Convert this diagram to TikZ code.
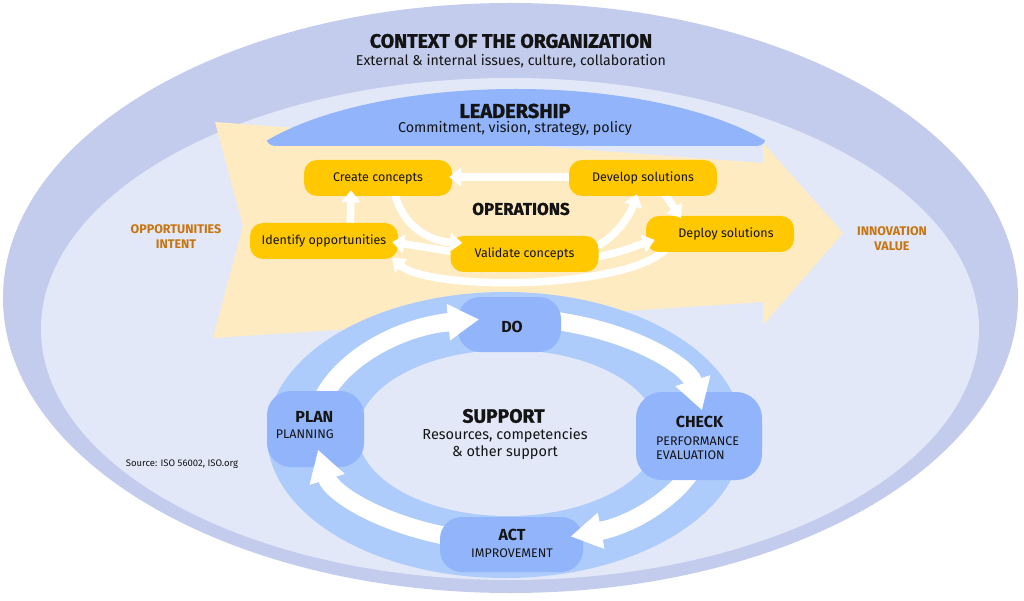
\documentclass[tikz,border=0pt]{standalone}
\usepackage{fontspec}
\setmainfont{Fira Sans}
\newfontfamily\heavyfont{Fira Sans}[BoldFeatures={FakeBold=1.3}]
\usetikzlibrary{arrows.meta}
\pgfdeclarelayer{back}
\pgfdeclarelayer{mid}
\pgfdeclarelayer{front}
\pgfsetlayers{back,mid,main,front}
\definecolor{outerC}{HTML}{C3CCEC}
\definecolor{innerC}{HTML}{E2E8F7}
\definecolor{yelA}{HTML}{FFEBC2}
\definecolor{yelB}{HTML}{FFC800}
\definecolor{blueD}{HTML}{91B4FB}
\definecolor{blueL}{HTML}{ADCBFB}
\definecolor{orangeT}{HTML}{C8740F}
\definecolor{txt}{HTML}{141414}
\newcommand\myfs[1]{\fontsize{#1}{#1}\selectfont}
\begin{document}
\begin{tikzpicture}[x=1pt,y=-1pt,
  opbox/.style={fill=yelB, rounded corners=13pt, minimum width=148pt, minimum height=36pt, inner sep=0pt, text=txt, font=\myfs{12.5}},
  pbox/.style={fill=blueD, inner sep=0pt},
  lbl/.style={inner sep=0pt, text=txt},
  heavy/.style={inner sep=0pt, text=txt, font=\heavyfont\bfseries\myfs{#1}},
  oparrow/.style={draw=white, line width=7.5pt, -{Triangle[length=12pt,width=18pt]}},
  ringarrow/.style={draw=white, line width=18pt, -{Triangle[length=31pt,width=34pt]}}]
\useasboundingbox (0,0) rectangle (1024,601);
\begin{pgfonlayer}{back}
\fill[white] (0,0) rectangle (1024,601);
\fill[outerC] (510.5,298) ellipse (507.5pt and 295pt);
\fill[innerC] (510,329) ellipse (469pt and 251pt);
\fill[yelA] (215,122) -- (763,163) -- (763,143) -- (843,233) -- (763,325) -- (763,302) -- (213,338) -- (243,226) -- cycle;
\begin{scope}
  \clip[rounded corners=9pt] (266,0) rectangle (766,146);
  \fill[blueD] (516,200) ellipse (295pt and 111pt);
\end{scope}
\fill[blueL] (505,435) ellipse (238pt and 143pt);
\fill[innerC] (508,433) ellipse (150pt and 83pt);
\end{pgfonlayer}

% titles
\node[heavy=19.5] (ctxT) at (511,41) {CONTEXT OF THE ORGANIZATION};
\node[lbl, font=\myfs{14.2}] (ctxS) at (511,61) {External \& internal issues, culture, collaboration};
\node[heavy=20] (leadT) at (515,111) {LEADERSHIP};
\node[lbl, font=\myfs{14.3}] (leadS) at (515,128) {Commitment, vision, strategy, policy};
\node[heavy=17] (opsT) at (521,209) {OPERATIONS};
\node[inner sep=0pt, text=orangeT, align=center, font=\fontsize{12.5}{15}\selectfont\bfseries] (oppT) at (176,236.5) {OPPORTUNITIES\\INTENT};
\node[inner sep=0pt, text=orangeT, align=center, font=\fontsize{12.5}{15}\selectfont\bfseries] (innT) at (892,238.5) {INNOVATION\\VALUE};
\node[heavy=19.3] (supT) at (503.5,416) {SUPPORT};
\node[lbl, align=center, font=\fontsize{14.5}{17}\selectfont] (supS) at (505,443.5) {Resources, competencies\\\& other support};
\node[lbl, font=\myfs{9.5}] (src) at (182,464) {Source: ISO 56002, ISO.org};

% operations boxes
\node[opbox] (cc) at (378,178) {Create concepts};
\node[opbox] (ds) at (643,178) {Develop solutions};
\node[opbox] (idop) at (324,241) {Identify opportunities};
\node[opbox] (vc) at (524.5,254) {Validate concepts};
\node[opbox] (dep) at (720,234) {\hspace*{12pt}Deploy solutions};

% PDCA boxes
\node[pbox, rounded corners=22pt, minimum width=103pt, minimum height=55pt] (do) at (509.5,324.5) {};
\node[pbox, rounded corners=24pt, minimum width=97pt, minimum height=76pt] (plan) at (315.5,429) {};
\node[pbox, rounded corners=26pt, minimum width=126pt, minimum height=88pt] (check) at (699,436) {};
\node[pbox, rounded corners=22pt, minimum width=143pt, minimum height=55pt] (act) at (511.5,544.5) {};

\node[lbl, font=\myfs{16}\bfseries] (doT) at (512,327) {DO};
\node[lbl, font=\myfs{16}\bfseries, anchor=east] (planT) at (333.5,417) {PLAN};
\node[lbl, font=\myfs{12.5}, anchor=east] (planS) at (334,434) {PLANNING};
\node[lbl, font=\myfs{16}\bfseries] (checkT) at (699.5,422) {CHECK};
\node[lbl, font=\myfs{12.5}, anchor=west] (checkS) at (656,441) {PERFORMANCE};
\node[lbl, font=\myfs{12.5}, anchor=west] (checkU) at (656,455) {EVALUATION};
\node[lbl, font=\myfs{16}\bfseries] (actT) at (512,535) {ACT};
\node[lbl, font=\myfs{12.5}] (actS) at (512,553) {IMPROVEMENT};

% tips of connectors
\coordinate (t1) at ([shift={(-27,-6)}]cc.south);
\coordinate (t2) at ([shift={(-3,-1)}]cc.east);
\coordinate (t3) at ([shift={(12,-11)}]vc.west);
\coordinate (t4) at ([shift={(-6,-2)}]ds.south);
\coordinate (t5) at ([shift={(-39,2)}]dep.north);
\coordinate (t6) at ([shift={(9,6)}]dep.west);
\coordinate (t7) at ([shift={(-6,1)}]idop.east);
\coordinate (t8) at ([shift={(-6,17)}]idop.east);
\coordinate (rA) at ([shift={(21.5,-5.1)}]do.west);
\coordinate (rB) at ([shift={(3,18.6)}]check.north);
\coordinate (rC) at ([shift={(-12.7,-8)}]act.east);
\coordinate (rD) at ([shift={(2.5,-17.6)}]plan.south);

\def\opA{([shift={(26,0)}]idop.center) -- (t1)}
\def\opB{([shift={(0,-1)}]ds.center) -- (t2)}
\def\opC{([shift={(16,-6)}]cc.south) .. controls (401,225) and (428,241) .. (t3)}
\def\opD{([shift={(-10,-4)}]vc.east) .. controls (615,240) and (630,215) .. (t4)}
\def\opE{([shift={(19,-6)}]ds.south) -- (t5)}
\def\opF{([shift={(-10,4)}]vc.east) .. controls (615,255) and (635,246) .. (t6)}
\def\opG{([shift={(11,-1)}]vc.west) -- (t7)}
\def\opH{([shift={(-50,-8)}]dep.south) .. controls (640,290) and (430,292) .. (t8)}
\def\rgA{([shift={(0,-9)}]plan.center) .. controls (323.5,369) and (391.1,327.4) .. (rA)}
\def\rgB{([shift={(-17,-5)}]do.east) .. controls (624.6,327.9) and (687.7,364.2) .. (rB)}
\def\rgC{([shift={(-0.6,23)}]check.center) .. controls (681.3,495.6) and (633.1,524.8) .. (rC)}
\def\rgD{([shift={(36.1,-4.2)}]act.west) .. controls (395.4,532.1) and (332.3,495.8) .. (rD)}

\begin{pgfonlayer}{mid}
\draw[oparrow] \opA;
\draw[oparrow] \opB;
\draw[oparrow] \opC;
\draw[oparrow] \opD;
\draw[oparrow] \opE;
\draw[oparrow] \opF;
\draw[oparrow] \opG;
\draw[oparrow] \opH;
\draw[ringarrow] \rgA;
\draw[ringarrow] \rgB;
\draw[ringarrow] \rgC;
\draw[ringarrow] \rgD;
\end{pgfonlayer}

\begin{pgfonlayer}{front}
\begin{scope}\clip (t1) circle (14pt); \draw[oparrow] \opA; \end{scope}
\begin{scope}\clip (t2) circle (14pt); \draw[oparrow] \opB; \end{scope}
\begin{scope}\clip (t3) circle (14pt); \draw[oparrow] \opC; \end{scope}
\begin{scope}\clip (t4) circle (14pt); \draw[oparrow] \opD; \end{scope}
\begin{scope}\clip (t5) circle (14pt); \draw[oparrow] \opE; \end{scope}
\begin{scope}\clip (t6) circle (14pt); \draw[oparrow] \opF; \end{scope}
\begin{scope}\clip (t7) circle (14pt); \draw[oparrow] \opG; \end{scope}
\begin{scope}\clip (t8) circle (14pt); \draw[oparrow] \opH; \end{scope}
\begin{scope}\clip (rA) circle (38pt); \draw[ringarrow] \rgA; \end{scope}
\begin{scope}\clip (rB) circle (38pt); \draw[ringarrow] \rgB; \end{scope}
\begin{scope}\clip (rC) circle (38pt); \draw[ringarrow] \rgC; \end{scope}
\begin{scope}\clip (rD) circle (38pt); \draw[ringarrow] \rgD; \end{scope}
\end{pgfonlayer}
\end{tikzpicture}
\end{document}
